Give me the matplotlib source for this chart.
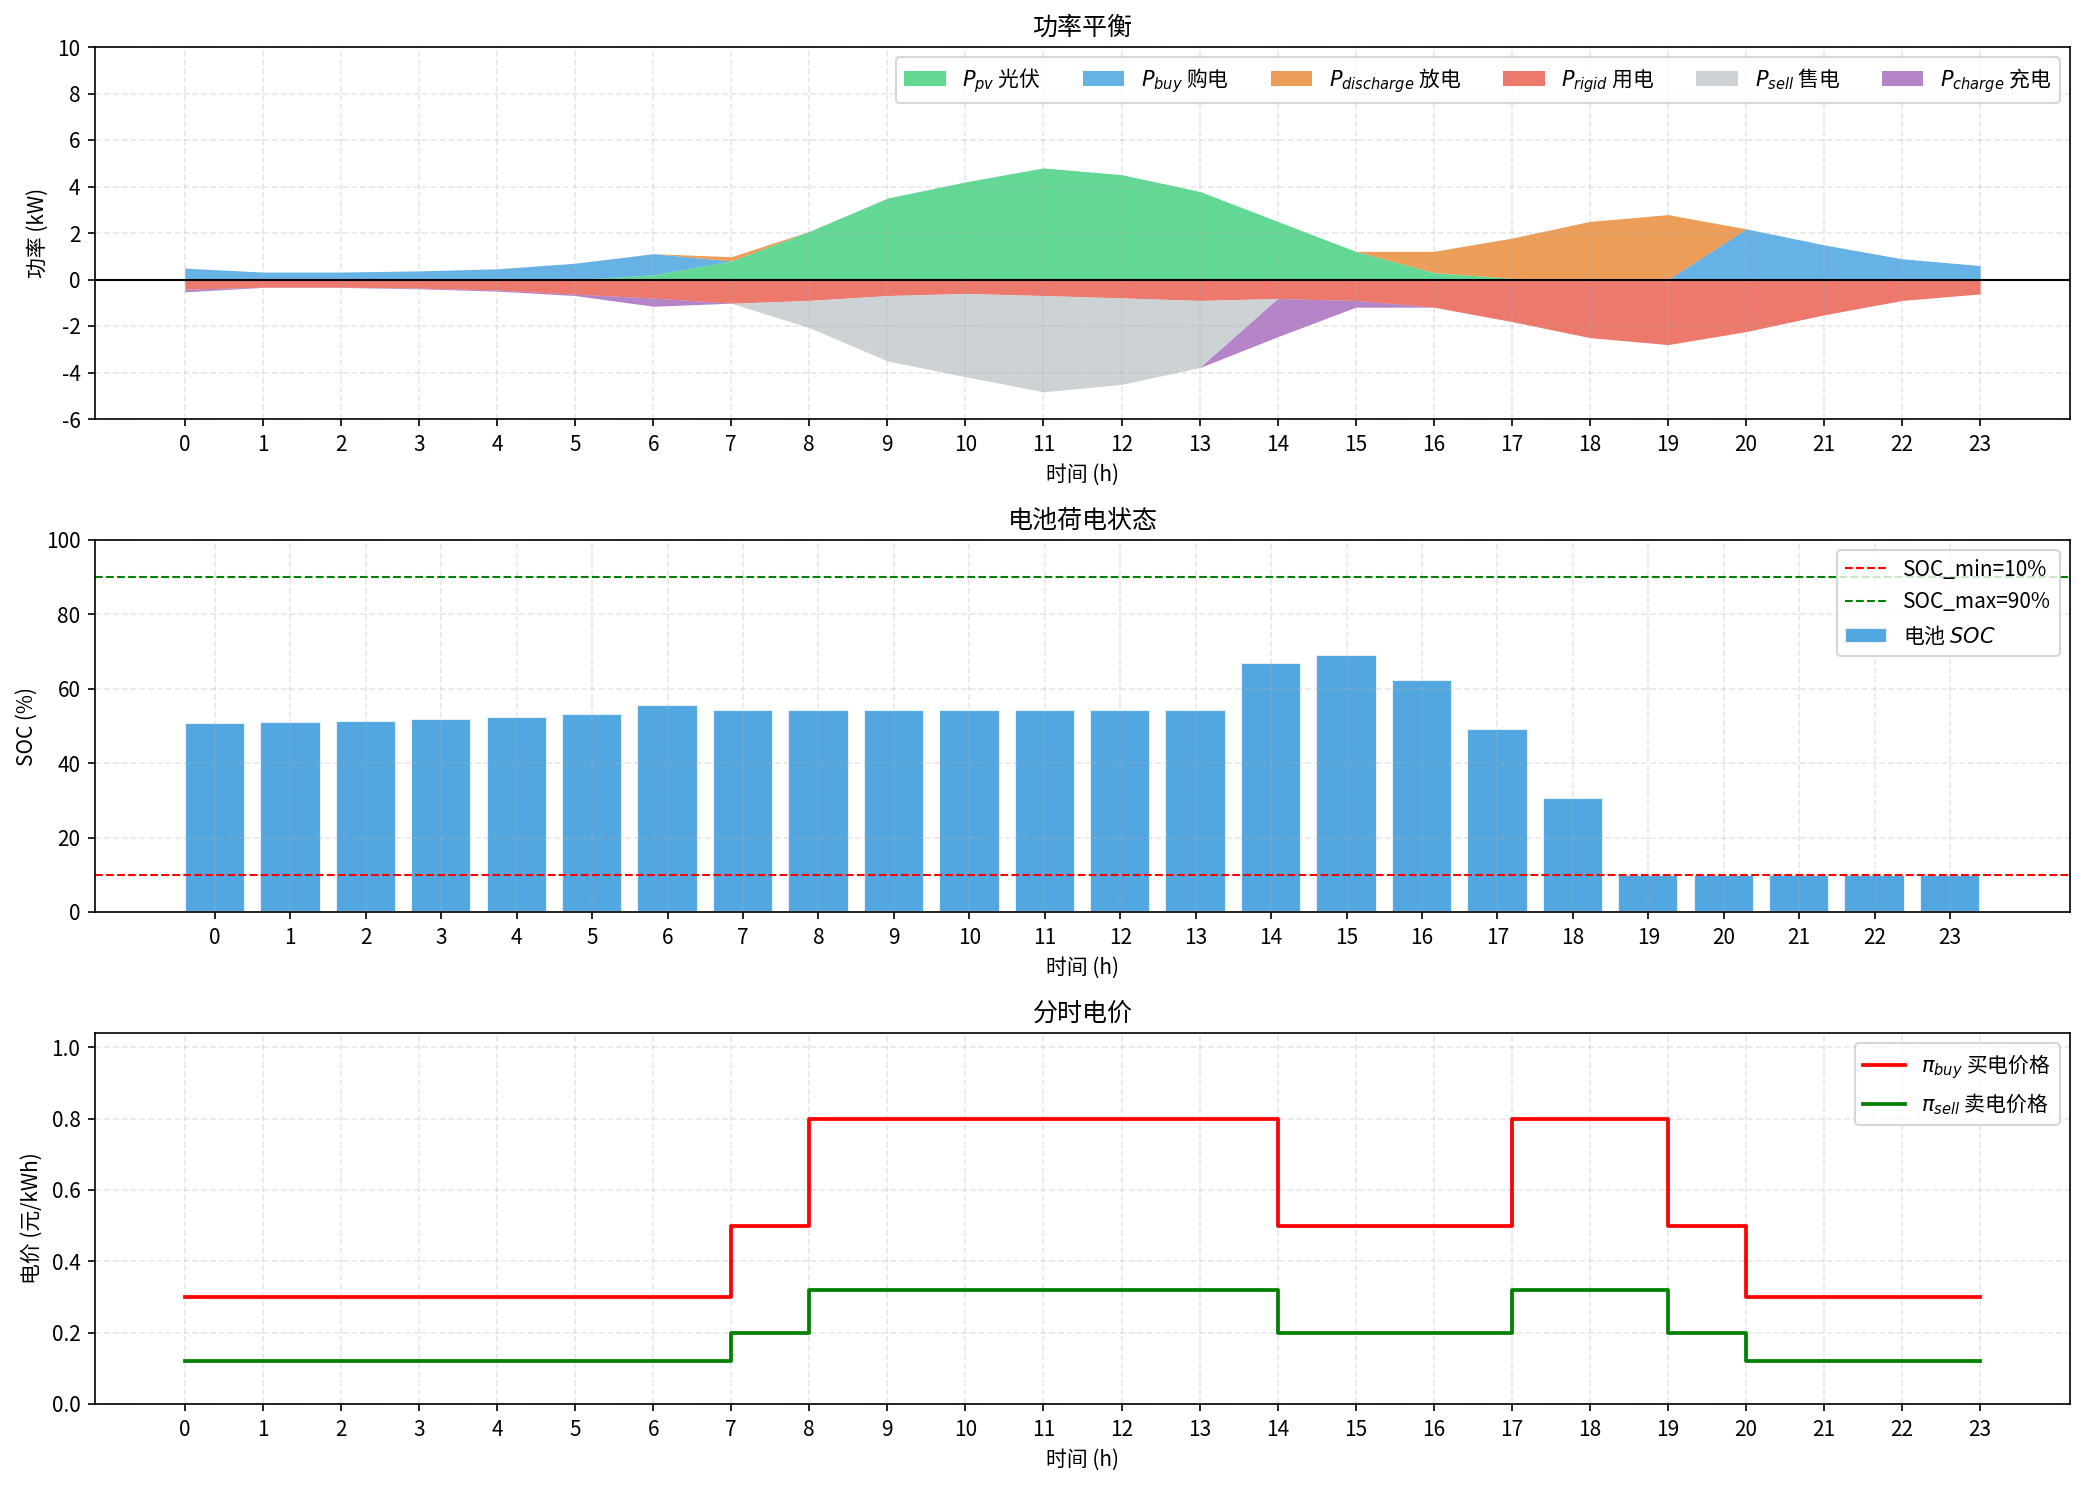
import matplotlib
matplotlib.use("Agg")
import matplotlib.pyplot as plt
import numpy as np

plt.rcParams['font.family'] = ['Noto Sans CJK SC', 'DejaVu Sans']
plt.rcParams['axes.unicode_minus'] = False

hours = list(range(24))

# Power balance (kW)
p_pv = [0, 0, 0, 0, 0, 0, 0.2, 0.8, 2.07, 3.5, 4.2, 4.8, 4.51, 3.79, 2.5, 1.21,
        0.3, 0.05, 0, 0, 0, 0, 0, 0]
p_buy = [0.49, 0.32, 0.32, 0.37, 0.46, 0.70, 0.91, 0, 0, 0, 0, 0, 0, 0, 0, 0,
         0, 0, 0, 0, 2.18, 1.49, 0.89, 0.6]
p_discharge = [0, 0, 0, 0, 0, 0, 0, 0.18, 0, 0, 0, 0, 0, 0, 0, 0,
               0.91, 1.73, 2.5, 2.79, 0, 0, 0, 0]
p_rigid = [0.42, 0.33, 0.33, 0.37, 0.45, 0.63, 0.80, 1.02, 0.9, 0.69, 0.6, 0.69,
           0.79, 0.9, 0.82, 0.9, 1.19, 1.81, 2.5, 2.8, 2.24, 1.52, 0.9, 0.62]
p_sell = [0, 0, 0, 0, 0, 0, 0, 0, 1.17, 2.81, 3.58, 4.14, 3.72, 2.89, 0, 0,
          0, 0, 0, 0, 0, 0, 0, 0]
p_charge = [0.11, 0.01, 0.01, 0.03, 0.05, 0.06, 0.35, 0, 0, 0, 0, 0, 0, 0, 1.64, 0.29,
            0, 0, 0, 0, 0, 0, 0, 0]

# Battery SOC (%)
soc = [50.8, 51.1, 51.4, 51.9, 52.5, 53.3, 55.7, 54.3, 54.3, 54.3, 54.3, 54.3,
       54.3, 54.3, 67.0, 69.1, 62.4, 49.2, 30.7, 10, 10, 10, 10, 10]
soc_min = 10
soc_max = 90

# Time-of-use prices (yuan/kWh)
price_buy = [0.3, 0.3, 0.3, 0.3, 0.3, 0.3, 0.3, 0.5, 0.8, 0.8, 0.8, 0.8,
             0.8, 0.8, 0.5, 0.5, 0.5, 0.8, 0.8, 0.5, 0.3, 0.3, 0.3, 0.3]
price_sell = [0.12, 0.12, 0.12, 0.12, 0.12, 0.12, 0.12, 0.2, 0.32, 0.32, 0.32, 0.32,
              0.32, 0.32, 0.2, 0.2, 0.2, 0.32, 0.32, 0.2, 0.12, 0.12, 0.12, 0.12]

W, H, DPI = 2084, 1486, 150
fig = plt.figure(figsize=(W / DPI, H / DPI), dpi=DPI)

left = 95 / W
width = (2070 - 95) / W
def box(top_px, bot_px):
    return [left, 1 - bot_px / H, width, (bot_px - top_px) / H]

ax1 = fig.add_axes(box(47, 419))
ax2 = fig.add_axes(box(540, 912))
ax3 = fig.add_axes(box(1033, 1404))

x = np.array(hours)
pv = np.array(p_pv); buy = np.array(p_buy); dis = np.array(p_discharge)
rig = np.array(p_rigid); sell = np.array(p_sell); ch = np.array(p_charge)

a = 0.75
ax1.fill_between(x, 0, pv, color='#2ecc71', alpha=a, lw=0, label=r'$P_{pv}$ 光伏')
ax1.fill_between(x, pv, pv + buy, color='#3498db', alpha=a, lw=0, label=r'$P_{buy}$ 购电')
ax1.fill_between(x, pv + buy, pv + buy + dis, color='#e67e22', alpha=a, lw=0,
                 label=r'$P_{discharge}$ 放电')
ax1.fill_between(x, 0, -rig, color='#e74c3c', alpha=a, lw=0, label=r'$P_{rigid}$ 用电')
ax1.fill_between(x, -rig, -rig - sell, color='#bdc3c7', alpha=a, lw=0, label=r'$P_{sell}$ 售电')
ax1.fill_between(x, -rig - sell, -rig - sell - ch, color='#9b59b6', alpha=a, lw=0,
                 label=r'$P_{charge}$ 充电')
ax1.axhline(0, color='black', lw=1)
ax1.set_ylim(-6, 10)
ax1.set_yticks(np.arange(-6, 11, 2))
ax1.set_xticks(hours)
ax1.set_xlabel('时间 (h)')
ax1.set_ylabel('功率 (kW)')
ax1.set_title('功率平衡', fontsize=12)
ax1.grid(True, linestyle='--', alpha=0.3)
ax1.legend(loc='upper right', ncol=6, fontsize=10)

ax2.bar(x, soc, width=0.8, color='#3498db', alpha=0.85, edgecolor='white', label=r'电池 $SOC$')
ax2.axhline(soc_min, color='red', linestyle='--', lw=1, label='SOC_min=10%')
ax2.axhline(soc_max, color='green', linestyle='--', lw=1, label='SOC_max=90%')
ax2.set_ylim(0, 100)
ax2.set_xticks(hours)
ax2.set_xlabel('时间 (h)')
ax2.set_ylabel('SOC (%)')
ax2.set_title('电池荷电状态', fontsize=12)
ax2.grid(True, linestyle='--', alpha=0.3)
h, l = ax2.get_legend_handles_labels()
order = [l.index('SOC_min=10%'), l.index('SOC_max=90%'), l.index(r'电池 $SOC$')]
ax2.legend([h[i] for i in order], [l[i] for i in order], loc='upper right', fontsize=10)

ax3.step(x, price_buy, where='post', color='red', lw=1.8, label=r'$\pi_{buy}$ 买电价格')
ax3.step(x, price_sell, where='post', color='green', lw=1.8, label=r'$\pi_{sell}$ 卖电价格')
ax3.set_ylim(0, max(price_buy) * 1.3)
ax3.set_xticks(hours)
ax3.set_xlabel('时间 (h)')
ax3.set_ylabel('电价 (元/kWh)')
ax3.set_title('分时电价', fontsize=12)
ax3.grid(True, linestyle='--', alpha=0.3)
ax3.legend(loc='upper right', fontsize=10)

fig.savefig('out.png', dpi=DPI)
